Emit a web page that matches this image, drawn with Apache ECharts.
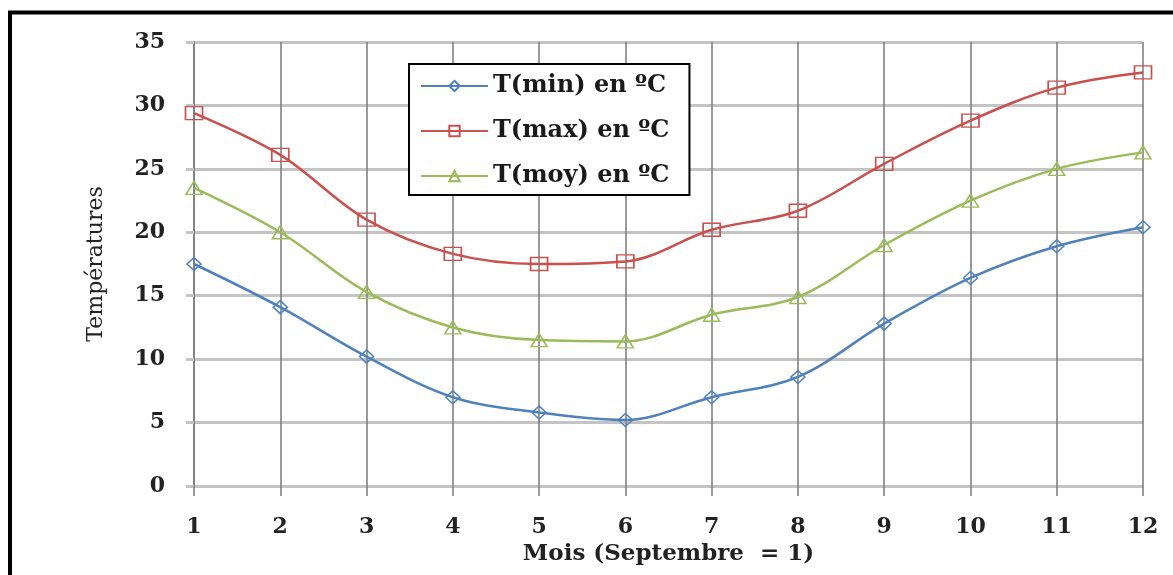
<!DOCTYPE html>
<html>
<head>
<meta charset="utf-8">
<script src="https://cdn.jsdelivr.net/npm/echarts@6/dist/echarts.min.js"></script>
<style>
  html, body { margin: 0; padding: 0; background: #fff; }
  #chart { width: 1173px; height: 575px; }
</style>
</head>
<body>
<div id="chart"></div>
<script>
// Mois (1 = septembre)
const months = [1, 2, 3, 4, 5, 6, 7, 8, 9, 10, 11, 12];
// Températures mensuelles en °C
const tMin = [17.5, 14.1, 10.2, 7.0, 5.8, 5.2, 7.0, 8.6, 12.8, 16.4, 18.9, 20.4];
const tMax = [29.4, 26.1, 21.0, 18.3, 17.5, 17.7, 20.2, 21.7, 25.4, 28.8, 31.4, 32.6];
const tMoy = [23.5, 20.0, 15.3, 12.5, 11.5, 11.4, 13.5, 14.9, 19.0, 22.5, 25.0, 26.3];
const seriesNames = ['T(min) en ºC', 'T(max) en ºC', 'T(moy) en ºC'];
const yTicks = [0, 5, 10, 15, 20, 25, 30, 35];

const pairs = vals => months.map((m, i) => [m, vals[i]]);
const serif = '"DejaVu Serif", "Liberation Serif", serif';

function lineSeries(name, vals, color, symbol, size) {
  return {
    name: name,
    type: 'line',
    data: pairs(vals),
    smooth: 0.35,
    symbol: symbol,
    symbolSize: size,
    lineStyle: { color: color, width: 2.5 },
    itemStyle: { color: 'rgba(255,255,255,0)', borderColor: color, borderWidth: 1.5 },
    emphasis: { disabled: true },
    z: 3
  };
}

const chart = echarts.init(document.getElementById('chart'));
chart.setOption({
  animation: false,
  backgroundColor: '#fff',
  graphic: [{
    type: 'rect',
    shape: { x: 10, y: 12.5, width: 1300, height: 700 },
    style: { fill: 'none', stroke: '#000', lineWidth: 4 },
    silent: true
  }],
  grid: { left: 194, right: 30, top: 42, bottom: 89 },
  xAxis: {
    type: 'value',
    min: 1, max: 12, interval: 1,
    name: 'Mois (Septembre  = 1)',
    nameLocation: 'middle',
    nameGap: 57,
    nameTextStyle: { fontFamily: serif, fontSize: 23, fontWeight: 'bold', color: '#222' },
    axisLine: { show: false },
    axisTick: { show: true, length: 10, lineStyle: { color: '#7a7a7a', width: 1.5 } },
    axisLabel: { margin: 30, fontFamily: serif, fontSize: 22, fontWeight: 'bold', color: '#222' },
    splitLine: { show: true, lineStyle: { color: '#7a7a7a', width: 1.5 } }
  },
  yAxis: {
    type: 'value',
    min: 0, max: 35, interval: 5,
    name: 'Températures',
    nameLocation: 'middle',
    nameRotate: 90,
    nameGap: 87,
    nameTextStyle: { fontFamily: serif, fontSize: 22, color: '#222' },
    axisLine: { show: true, lineStyle: { color: '#7a7a7a', width: 1.5 } },
    axisTick: { show: true, length: 8, lineStyle: { color: '#c4c4c4', width: 3 } },
    axisLabel: {
      margin: 29, fontFamily: serif, fontSize: 22, fontWeight: 'bold', color: '#222',
      formatter: v => (yTicks.indexOf(v) >= 0 ? String(v) : '')
    },
    splitLine: { show: true, lineStyle: { color: '#c4c4c4', width: 3 } }
  },
  legend: {
    data: seriesNames,
    orient: 'vertical',
    left: 409, top: 64,
    padding: [10, 20, 7, 11],
    backgroundColor: '#fff',
    borderColor: '#000',
    borderWidth: 2,
    itemWidth: 67,
    itemHeight: 13,
    itemGap: 21,
    selectedMode: false,
    textStyle: { fontFamily: serif, fontSize: 24, fontWeight: 'bold', color: '#1a1a1a', lineHeight: 24 }
  },
  series: [
    lineSeries(seriesNames[0], tMin, '#4f81bd', 'diamond', [14, 13]),
    lineSeries(seriesNames[1], tMax, '#c9504d', 'rect', [17, 13]),
    lineSeries(seriesNames[2], tMoy, '#9bbb59', 'triangle', [16, 13])
  ]
});
</script>
</body>
</html>
